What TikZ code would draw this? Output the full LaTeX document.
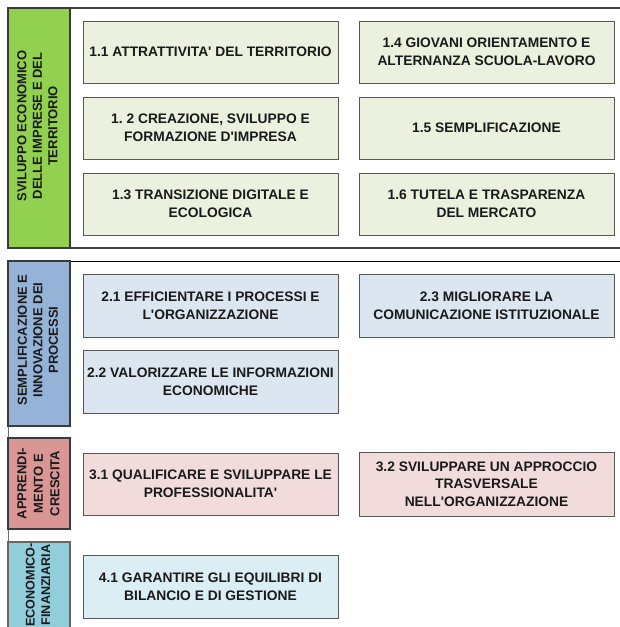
\documentclass[tikz,border=0pt]{standalone}
\usepackage{fontspec}
\setmainfont{Liberation Sans}
\usetikzlibrary{shadows}
\frenchspacing
\newcommand{\sq}{\textquotesingle}
\definecolor{txt}{HTML}{1A1A1A}
\definecolor{edge}{HTML}{3A3A3A}
\definecolor{gbar}{HTML}{92D050}
\definecolor{gbox}{HTML}{EBF1DE}
\definecolor{bbar}{HTML}{95B3D7}
\definecolor{bbox}{HTML}{DCE6F1}
\definecolor{rbar}{HTML}{DA9694}
\definecolor{rbox}{HTML}{F2DCDB}
\definecolor{tbar}{HTML}{92CDDC}
\definecolor{tbox}{HTML}{DAEEF3}
\tikzset{
  goal/.style={draw=edge!85, line width=0.9pt, minimum width=255pt, minimum height=62pt,
    inner sep=2pt, align=center, text=txt,
    font=\fontsize{13.8}{18}\selectfont\bfseries,
    drop shadow={shadow xshift=1pt, shadow yshift=-1pt, opacity=1, fill=black!75}},
  sidebar/.style={draw=edge, line width=1.2pt, minimum width=62pt, inner sep=0pt,
    text=txt},
  sidetext/.style={rotate=90, align=center, text=txt, inner sep=0pt,
    font=\fontsize{13}{15.5}\selectfont\bfseries},
  thickframe/.style={draw=black!75, line width=2pt},
  thinframe/.style={draw=black, line width=1pt},
  sideframe/.style={draw=black!55, line width=1pt}
}
\begin{document}
\begin{tikzpicture}[x=1pt,y=-1pt]
\useasboundingbox (0,0) rectangle (620,627);
\fill[white] (0,0) rectangle (620,627);
\clip (0,0) rectangle (620,627);

% frame coordinates
\coordinate (f1tl) at (8,8);
\coordinate (f1tr) at (622,8);
\coordinate (f1bl) at (8,248);
\coordinate (f1br) at (622,248);
\coordinate (f2tl) at (8,261);
\coordinate (f2tr) at (622,261);
\coordinate (f2bl) at (8,640);

% frames
\draw[sideframe] (f2tl) -- (f2bl);
\draw[thinframe] (f2tl) -- (f2tr);
\draw[thickframe] (f1tl) -- (f1tr);
\draw[thickframe] (f1bl) -- (f1br);

% side bars
\node[sidebar, fill=gbar, minimum height=240pt] (s1) at (39,128) {};
\node[sidetext] (s1t) at (37.5,126) {SVILUPPO ECONOMICO\\DELLE IMPRESE E DEL\\TERRITORIO};

\node[sidebar, fill=bbar, minimum height=165pt] (s2) at (39,343.5) {};
\node[sidetext] (s2t) at (38,340) {SEMPLIFICAZIONE E\\INNOVAZIONE DEI\\PROCESSI};

\node[sidebar, fill=rbar, minimum height=91pt] (s3) at (39,483.5) {};
\node[sidetext, font=\fontsize{13}{16.5}\selectfont\bfseries] (s3t) at (38.5,483.5) {APPRENDI-\\MENTO E\\CRESCITA};

\node[sidebar, draw=black!60, fill=tbar, minimum height=92pt] (s4) at (39,588) {};
\node[sidetext, font=\fontsize{12.6}{15.5}\selectfont\bfseries] (s4t) at (38,585) {ECONOMICO-\\FINANZIARIA};

% section 1 boxes
\node[goal, fill=gbox] (g11) at (210.5,52) {1.1 ATTRATTIVITA\sq{} DEL TERRITORIO};
\node[goal, fill=gbox] (g12) at (210.5,128) {1. 2 CREAZIONE, SVILUPPO E\\FORMAZIONE D\sq IMPRESA};
\node[goal, fill=gbox] (g13) at (210.5,204) {1.3 TRANSIZIONE DIGITALE E\\ECOLOGICA};
\node[goal, fill=gbox] (g14) at (486.5,52) {1.4 GIOVANI ORIENTAMENTO E\\ALTERNANZA SCUOLA-LAVORO};
\node[goal, fill=gbox] (g15) at (486.5,128) {1.5 SEMPLIFICAZIONE};
\node[goal, fill=gbox] (g16) at (486.5,204) {1.6 TUTELA E TRASPARENZA\\DEL MERCATO};

% section 2 boxes
\node[goal, fill=bbox, minimum height=63pt] (g21) at (210.5,305.5) {2.1 EFFICIENTARE I PROCESSI E\\L\sq ORGANIZZAZIONE};
\node[goal, fill=bbox, minimum height=63pt] (g22) at (210.5,381.5) {2.2 VALORIZZARE LE INFORMAZIONI\\ECONOMICHE};
\node[goal, fill=bbox, minimum height=63pt] (g23) at (486.5,305.5) {2.3 MIGLIORARE LA\\COMUNICAZIONE ISTITUZIONALE};

% section 3 boxes
\node[goal, fill=rbox, minimum height=62pt] (g31) at (210.5,484) {3.1 QUALIFICARE E SVILUPPARE LE\\PROFESSIONALITA\sq};
\node[goal, fill=rbox, minimum height=64pt, font=\fontsize{13.8}{17.5}\selectfont\bfseries] (g32) at (486.5,484) {3.2 SVILUPPARE UN APPROCCIO\\TRASVERSALE\\NELL\sq ORGANIZZAZIONE};

% section 4 boxes
\node[goal, fill=tbox, minimum height=63pt] (g41) at (210.5,586.5) {4.1 GARANTIRE GLI EQUILIBRI DI\\BILANCIO E DI GESTIONE};
\end{tikzpicture}
\end{document}
